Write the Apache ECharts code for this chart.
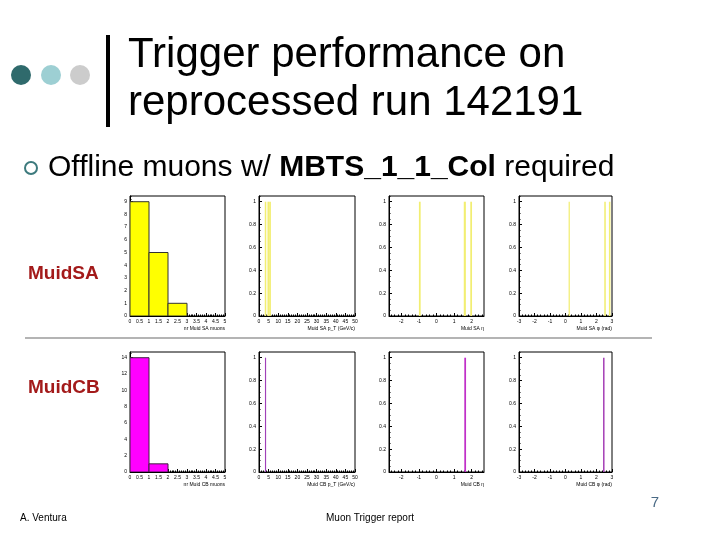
<!DOCTYPE html>
<html><head><meta charset="utf-8">
<script src="https://cdn.jsdelivr.net/npm/echarts@6/dist/echarts.min.js"></script>
<style>html,body{margin:0;padding:0;background:#fff}#c{width:720px;height:540px}</style>
</head><body><div id="c"></div>
<script>
// ---- data: histogram bins [low edge, high edge, entries] ----
const nSA_bins   = [[0,1,9],[1,2,5],[2,3,1]];
const ptSA_bins  = [[3.0,3.8,1],[4.4,5.3,1],[5.3,6.2,1]];
const etaSA_bins = [[-1.0,-0.9,1],[1.55,1.67,1],[1.92,2.02,1]];
const phiSA_bins = [[0.2,0.28,1],[2.5,2.6,1],[2.8,2.9,1]];
const nCB_bins   = [[0,1,14],[1,2,1]];
const ptCB_bins  = [[3.1,3.7,1]];
const etaCB_bins = [[1.58,1.68,1]];
const phiCB_bins = [[2.42,2.52,1]];

// ---- tick labels ----
const nTicks   = [0,0.5,1,1.5,2,2.5,3,3.5,4,4.5,5];
const ptTicks  = [0,5,10,15,20,25,30,35,40,45,50];
const etaTicks = [-2,-1,0,1,2];
const phiTicks = [-3,-2,-1,0,1,2,3];
const cntSATicks = [0,1,2,3,4,5,6,7,8,9];
const fracTicks  = [0,0.2,0.4,0.6,0.8,1];
const cntCBTicks = [0,2,4,6,8,10,12,14];

const FONT = '"Liberation Sans", Arial, sans-serif';

function minorVals(min, max, step) {
  const out = [];
  const start = Math.ceil(min / step - 1e-9);
  for (let k = start; k * step <= max + 1e-9; k++) out.push(+(k * step).toFixed(6));
  return out;
}

const panels = [
  {left:130, top:196, width:95, xmin:0, xmax:5, xt:nTicks, xm:0.1, ymax:9.45, yt:cntSATicks, ym:0.2, bins:nSA_bins, fill:'#ffff00', stroke:'#333', name:'nr Muid SA muons'},
  {left:259, top:196, width:96, xmin:0, xmax:50, xt:ptTicks, xm:1, ymax:1.05, yt:fracTicks, ym:0.05, bins:ptSA_bins, fill:'#f2ee72', stroke:null, name:'Muid SA p_T (GeV/c)'},
  {left:389, top:196, width:95, xmin:-2.7, xmax:2.7, xt:etaTicks, xm:0.2, ymax:1.05, yt:fracTicks, ym:0.05, bins:etaSA_bins, fill:'#f2ee72', stroke:null, name:'Muid SA η'},
  {left:519, top:196, width:93, xmin:-3, xmax:3, xt:phiTicks, xm:0.2, ymax:1.05, yt:fracTicks, ym:0.05, bins:phiSA_bins, fill:'#f2ee72', stroke:null, name:'Muid SA φ (rad)'},
  {left:130, top:352, width:95, xmin:0, xmax:5, xt:nTicks, xm:0.1, ymax:14.7, yt:cntCBTicks, ym:0.5, bins:nCB_bins, fill:'#ff00ff', stroke:'#402040', name:'nr Muid CB muons'},
  {left:259, top:352, width:96, xmin:0, xmax:50, xt:ptTicks, xm:1, ymax:1.05, yt:fracTicks, ym:0.05, bins:ptCB_bins, fill:'#a040b8', stroke:null, name:'Muid CB p_T (GeV/c)'},
  {left:389, top:352, width:95, xmin:-2.7, xmax:2.7, xt:etaTicks, xm:0.2, ymax:1.05, yt:fracTicks, ym:0.05, bins:etaCB_bins, fill:'#c030c8', stroke:null, name:'Muid CB η'},
  {left:519, top:352, width:93, xmin:-3, xmax:3, xt:phiTicks, xm:0.2, ymax:1.05, yt:fracTicks, ym:0.05, bins:phiCB_bins, fill:'#a845b8', stroke:null, name:'Muid CB φ (rad)'}
];

const grid = [], xAxis = [], yAxis = [], series = [];
panels.forEach((p, i) => {
  grid.push({left:p.left, top:p.top, width:p.width, height:120, show:true, borderColor:'#000', borderWidth:1, backgroundColor:'rgba(0,0,0,0)'});
  xAxis.push({type:'value', gridIndex:i, position:'bottom', min:p.xmin, max:p.xmax,
    axisLine:{show:true, onZero:false, lineStyle:{color:'#000', width:1}},
    axisTick:{show:true, inside:true, length:3, customValues:p.xt, lineStyle:{color:'#000'}},
    axisLabel:{show:true, customValues:p.xt, fontSize:5, color:'#000', margin:3, fontFamily:FONT, hideOverlap:false},
    splitLine:{show:false},
    name:p.name, nameLocation:'end', nameGap:0,
    nameTextStyle:{fontSize:5, fontFamily:FONT, color:'#000', align:'right', verticalAlign:'top', padding:[10,0,0,0]}});
  xAxis.push({type:'value', gridIndex:i, position:'bottom', min:p.xmin, max:p.xmax,
    axisLine:{show:false, onZero:false}, axisLabel:{show:false}, splitLine:{show:false},
    axisTick:{show:true, inside:true, length:1.5, customValues:minorVals(p.xmin,p.xmax,p.xm), lineStyle:{color:'#000'}}});
  yAxis.push({type:'value', gridIndex:i, position:'left', min:0, max:p.ymax,
    axisLine:{show:true, onZero:false, lineStyle:{color:'#000', width:1}},
    axisTick:{show:true, inside:true, length:3, customValues:p.yt, lineStyle:{color:'#000'}},
    axisLabel:{show:true, customValues:p.yt, fontSize:5, color:'#000', margin:3, fontFamily:FONT, hideOverlap:false},
    splitLine:{show:false}});
  yAxis.push({type:'value', gridIndex:i, position:'left', min:0, max:p.ymax,
    axisLine:{show:false, onZero:false}, axisLabel:{show:false}, splitLine:{show:false},
    axisTick:{show:true, inside:true, length:1.5, customValues:minorVals(0,p.ymax,p.ym), lineStyle:{color:'#000'}}});
  series.push({type:'custom', xAxisIndex:2*i, yAxisIndex:2*i, data:p.bins, clip:true, silent:true,
    encode:{x:[0,1], y:2},
    renderItem:function(params, api){
      const a = api.coord([api.value(0), 0]);
      const b = api.coord([api.value(1), api.value(2)]);
      return {type:'rect', shape:{x:a[0], y:b[1], width:b[0]-a[0], height:a[1]-b[1]},
        style:{fill:p.fill, stroke:p.stroke || null, lineWidth:p.stroke ? 1 : 0}};
    }});
});

const graphic = [
  {type:'circle', shape:{cx:21, cy:75, r:10}, style:{fill:'#2f6a6c'}},
  {type:'circle', shape:{cx:51, cy:75, r:10}, style:{fill:'#9dcfd3'}},
  {type:'circle', shape:{cx:80, cy:75, r:10}, style:{fill:'#cccccc'}},
  {type:'rect', shape:{x:106, y:35, width:4, height:92}, style:{fill:'#000'}},
  {type:'text', x:128, y:55, style:{text:'Trigger performance on', font:'42px '+FONT, fill:'#000', verticalAlign:'middle'}},
  {type:'text', x:128, y:103, style:{text:'reprocessed run 142191', font:'42px '+FONT, fill:'#000', verticalAlign:'middle'}},
  {type:'circle', shape:{cx:31, cy:168, r:6}, style:{fill:'none', stroke:'#3d7a7d', lineWidth:2}},
  {type:'text', x:48, y:168, style:{
    text:'{r|Offline muons w/ }{b|MBTS_1_1_Col}{r| required}', verticalAlign:'middle',
    rich:{r:{font:'30px '+FONT, fill:'#000'}, b:{font:'bold 30px '+FONT, fill:'#000'}}}},
  {type:'text', x:28, y:274, style:{text:'MuidSA', font:'bold 19px '+FONT, fill:'#a31a1a', verticalAlign:'middle'}},
  {type:'text', x:28, y:388, style:{text:'MuidCB', font:'bold 19px '+FONT, fill:'#a31a1a', verticalAlign:'middle'}},
  {type:'rect', shape:{x:25, y:337, width:627, height:2}, style:{fill:'#b4b4b4'}},
  {type:'text', x:20, y:518, style:{text:'A. Ventura', font:'10px '+FONT, fill:'#000', verticalAlign:'middle'}},
  {type:'text', x:370, y:518, style:{text:'Muon Trigger report', font:'10px '+FONT, fill:'#000', align:'center', verticalAlign:'middle'}},
  {type:'text', x:655, y:503, style:{text:'7', font:'15px '+FONT, fill:'#4a6a85', align:'center', verticalAlign:'middle'}}
];

const chart = echarts.init(document.getElementById('c'), null, {renderer:'canvas'});
chart.setOption({animation:false, backgroundColor:'#fff', grid, xAxis, yAxis, series, graphic});
</script></body></html>
